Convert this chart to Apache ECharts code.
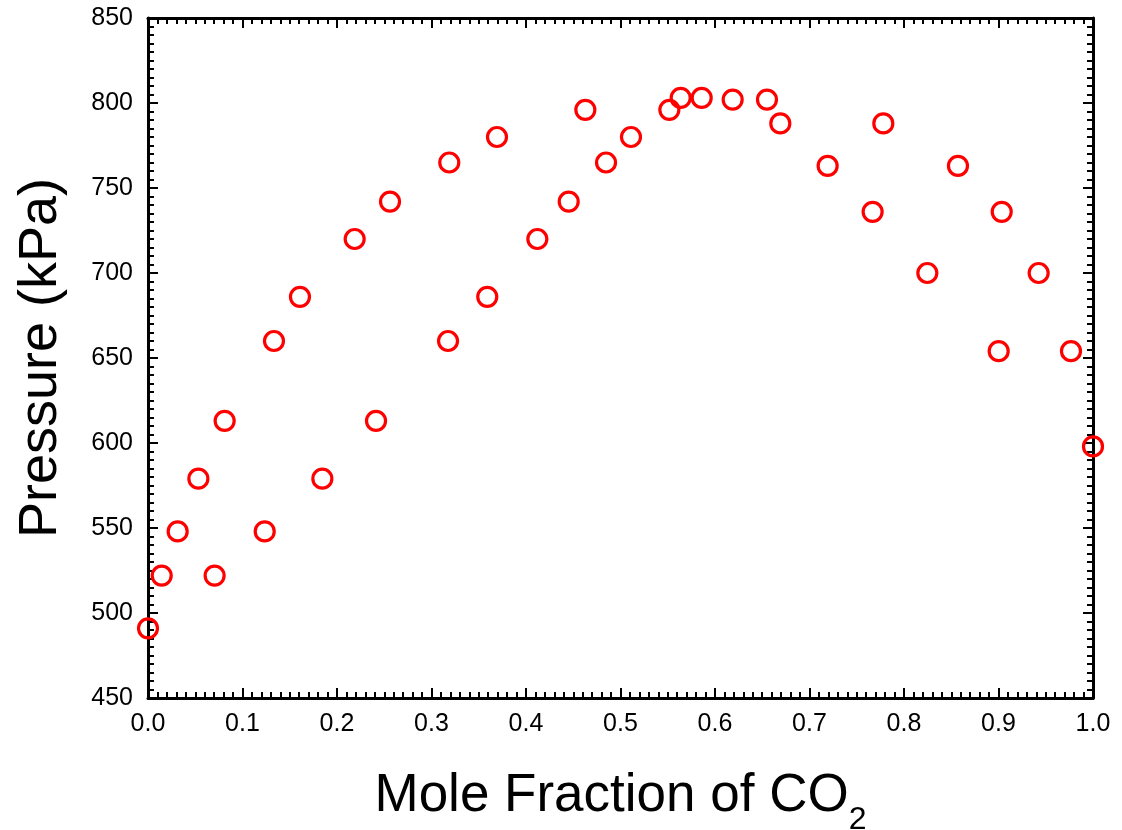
<!DOCTYPE html>
<html>
<head>
<meta charset="utf-8">
<script src="https://cdn.jsdelivr.net/npm/echarts@6/dist/echarts.min.js"></script>
<style>
  html, body { margin: 0; padding: 0; background: #fff; }
  #main { width: 1122px; height: 830px; }
</style>
</head>
<body>
<div id="main"></div>
<script>
// pressures (kPa)
var bubbleP = [491, 522, 548, 579, 613, 660, 686, 720, 742, 765, 780, 796, 803, 802, 788, 763, 736, 700, 654, 598];
var bubbleX = [0.0, 0.0145, 0.0314, 0.0533, 0.0811, 0.1333, 0.1608, 0.2187, 0.2561, 0.3188, 0.3693, 0.4628, 0.5637, 0.6187, 0.6691, 0.7192, 0.7668, 0.8247, 0.9002, 1.0];

var dewP = [522, 548, 579, 613, 660, 686, 720, 742, 765, 780, 796, 803, 802, 788, 763, 736, 700, 654];
var dewX = [0.0705, 0.1235, 0.1845, 0.2413, 0.3175, 0.359, 0.412, 0.4452, 0.4847, 0.5111, 0.5517, 0.5859, 0.655, 0.7781, 0.8571, 0.9034, 0.9425, 0.9767];

var xTicks = { min: 0, max: 1, step: 0.1 };
var yTicks = { min: 450, max: 850, step: 50 };

var chart = echarts.init(document.getElementById('main'));

function pairs(xs, ys) {
  var out = [];
  for (var i = 0; i < xs.length; i++) {
    out.push([xs[i], ys[i]]);
  }
  return out;
}

var font = 'Liberation Sans, Arial, sans-serif';
var line = { show: true, onZero: false, lineStyle: { color: '#000', width: 3 } };
var tick = { show: true, inside: true, length: 10, lineStyle: { color: '#000', width: 2 } };
var minor = { show: true, splitNumber: 10, length: 6, lineStyle: { color: '#000', width: 2 } };

var markStyle = {
  color: 'rgba(255,255,255,0)',
  borderColor: '#ff0000',
  borderWidth: 3.2,
  opacity: 1
};

var option = {
  backgroundColor: '#fff',
  animation: false,
  grid: { left: 148, right: 29, top: 18, bottom: 132, outerBoundsMode: 'none', containLabel: false },
  xAxis: [{
    type: 'value',
    position: 'bottom',
    min: xTicks.min, max: xTicks.max, interval: xTicks.step,
    axisLine: line, axisTick: tick, minorTick: minor,
    splitLine: { show: false },
    axisLabel: {
      margin: 14, fontSize: 25, color: '#000', fontFamily: font,
      formatter: function (v) { return v.toFixed(1); }
    },
    name: 'Mole Fraction of CO{sub|2}',
    nameLocation: 'middle',
    nameGap: 58,
    nameTextStyle: {
      fontSize: 53, color: '#000', fontFamily: font,
      rich: {
        sub: { fontSize: 32, color: '#000', fontFamily: font, verticalAlign: 'bottom', lineHeight: 80 }
      }
    }
  }, {
    type: 'value',
    position: 'top',
    min: xTicks.min, max: xTicks.max, interval: xTicks.step,
    axisLine: line, axisTick: tick, minorTick: minor,
    splitLine: { show: false },
    axisLabel: { show: false }
  }],
  yAxis: [{
    type: 'value',
    position: 'left',
    min: yTicks.min, max: yTicks.max, interval: yTicks.step,
    axisLine: line, axisTick: tick, minorTick: minor,
    splitLine: { show: false },
    axisLabel: { margin: 15, fontSize: 25, color: '#000', fontFamily: font },
    name: 'Pressure (kPa)',
    nameLocation: 'middle',
    nameGap: 80,
    nameTextStyle: { fontSize: 54, color: '#000', fontFamily: font }
  }, {
    type: 'value',
    position: 'right',
    min: yTicks.min, max: yTicks.max, interval: yTicks.step,
    axisLine: line, axisTick: tick, minorTick: minor,
    splitLine: { show: false },
    axisLabel: { show: false }
  }],
  series: [{
    name: 'bubble',
    type: 'scatter',
    clip: false,
    z: 5,
    symbol: 'circle',
    symbolSize: 19,
    itemStyle: markStyle,
    data: pairs(bubbleX, bubbleP)
  }, {
    name: 'dew',
    type: 'scatter',
    clip: false,
    z: 5,
    symbol: 'circle',
    symbolSize: 19,
    itemStyle: markStyle,
    data: pairs(dewX, dewP)
  }]
};

chart.setOption(option);
</script>
</body>
</html>
